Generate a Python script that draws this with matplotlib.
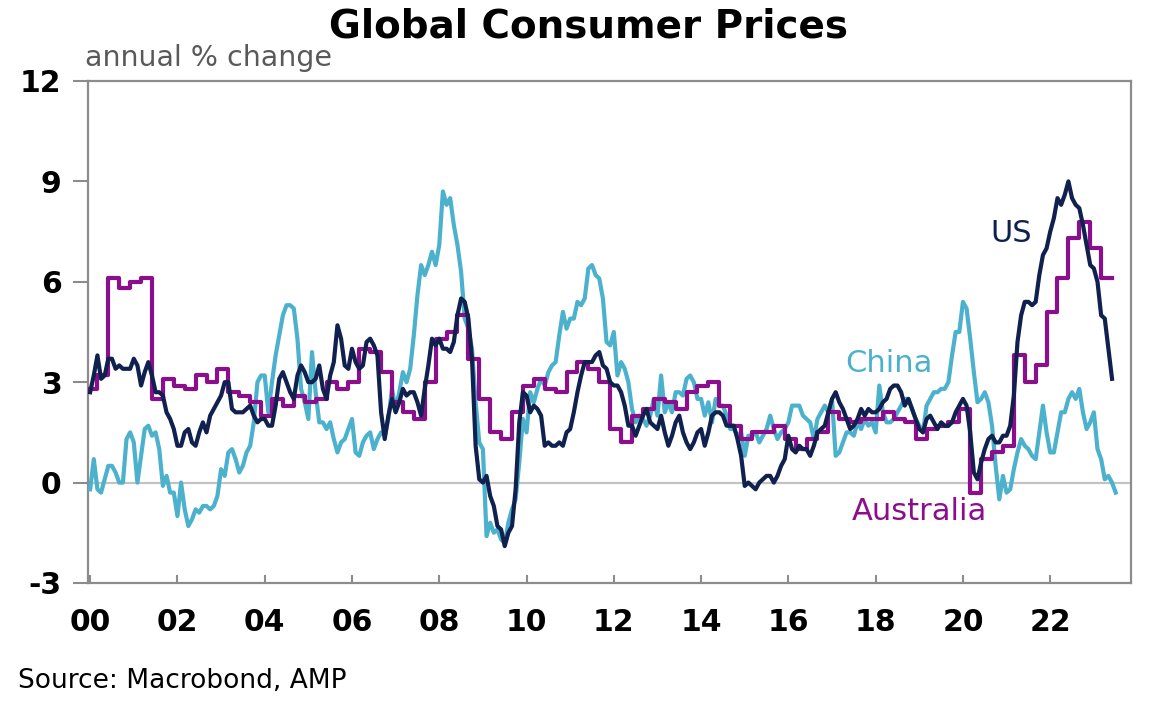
import matplotlib
matplotlib.use("Agg")
import matplotlib.pyplot as plt
import numpy as np

# annual % change, monthly from Jan 2000
us_cpi = [
    2.7, 3.2, 3.8, 3.1, 3.2, 3.7, 3.7, 3.4, 3.5, 3.4, 3.4, 3.4,   # 2000
    3.7, 3.5, 2.9, 3.3, 3.6, 3.2, 2.7, 2.7, 2.6, 2.1, 1.9, 1.6,   # 2001
    1.1, 1.1, 1.5, 1.6, 1.2, 1.1, 1.5, 1.8, 1.5, 2.0, 2.2, 2.4,   # 2002
    2.6, 3.0, 3.0, 2.2, 2.1, 2.1, 2.1, 2.2, 2.3, 2.0, 1.8, 1.9,   # 2003
    1.9, 1.7, 1.7, 2.3, 3.1, 3.3, 3.0, 2.7, 2.5, 3.2, 3.5, 3.3,   # 2004
    3.0, 3.0, 3.1, 3.5, 2.8, 2.5, 3.2, 3.6, 4.7, 4.3, 3.5, 3.4,   # 2005
    4.0, 3.6, 3.4, 3.5, 4.2, 4.3, 4.1, 3.8, 2.1, 1.3, 2.0, 2.5,   # 2006
    2.1, 2.4, 2.8, 2.6, 2.7, 2.7, 2.4, 2.0, 2.8, 3.5, 4.3, 4.1,   # 2007
    4.3, 4.0, 4.0, 3.9, 4.2, 5.0, 5.5, 5.4, 4.9, 3.7, 1.1, 0.1,   # 2008
    0.0, 0.2, -0.4, -0.7, -1.3, -1.4, -1.9, -1.5, -1.3, -0.2, 1.8, 2.7,  # 2009
    2.6, 2.1, 2.3, 2.2, 2.0, 1.1, 1.2, 1.1, 1.1, 1.2, 1.1, 1.5,   # 2010
    1.6, 2.1, 2.7, 3.2, 3.6, 3.6, 3.6, 3.8, 3.9, 3.5, 3.4, 3.0,   # 2011
    2.9, 2.9, 2.7, 2.3, 1.7, 1.7, 1.4, 1.7, 2.0, 2.2, 1.8, 1.7,   # 2012
    1.6, 2.0, 1.5, 1.1, 1.4, 1.8, 2.0, 1.5, 1.2, 1.0, 1.2, 1.5,   # 2013
    1.6, 1.1, 1.5, 2.0, 2.1, 2.1, 2.0, 1.7, 1.7, 1.7, 1.3, 0.8,   # 2014
    -0.1, 0.0, -0.1, -0.2, 0.0, 0.1, 0.2, 0.2, 0.0, 0.2, 0.5, 0.7,  # 2015
    1.4, 1.0, 0.9, 1.1, 1.0, 1.0, 0.8, 1.1, 1.5, 1.6, 1.7, 2.1,   # 2016
    2.5, 2.7, 2.4, 2.2, 1.9, 1.6, 1.7, 1.9, 2.2, 2.0, 2.2, 2.1,   # 2017
    2.1, 2.2, 2.4, 2.5, 2.8, 2.9, 2.9, 2.7, 2.3, 2.5, 2.2, 1.9,   # 2018
    1.6, 1.5, 1.9, 2.0, 1.8, 1.6, 1.8, 1.7, 1.7, 1.8, 2.1, 2.3,   # 2019
    2.5, 2.3, 1.5, 0.3, 0.1, 0.6, 1.0, 1.3, 1.4, 1.2, 1.2, 1.4,   # 2020
    1.4, 1.7, 2.6, 4.2, 5.0, 5.4, 5.4, 5.3, 5.4, 6.2, 6.8, 7.0,   # 2021
    7.5, 7.9, 8.5, 8.3, 8.6, 9.0, 8.5, 8.3, 8.2, 7.7, 7.1, 6.5,   # 2022
    6.4, 6.0, 5.0, 4.9, 4.0, 3.1,                                 # 2023
]

china_cpi = [
    -0.2, 0.7, -0.2, -0.3, 0.1, 0.5, 0.5, 0.3, 0.0, 0.0, 1.3, 1.5,   # 2000
    1.2, 0.0, 0.8, 1.6, 1.7, 1.4, 1.5, 1.0, -0.1, 0.2, -0.3, -0.3,   # 2001
    -1.0, 0.0, -0.8, -1.3, -1.1, -0.8, -0.9, -0.7, -0.7, -0.8, -0.7, -0.4,  # 2002
    0.4, 0.2, 0.9, 1.0, 0.7, 0.3, 0.5, 0.9, 1.1, 1.8, 3.0, 3.2,   # 2003
    3.2, 2.1, 3.0, 3.8, 4.4, 5.0, 5.3, 5.3, 5.2, 4.3, 2.8, 2.4,   # 2004
    1.9, 3.9, 2.7, 1.8, 1.8, 1.6, 1.8, 1.3, 0.9, 1.2, 1.3, 1.6,   # 2005
    1.9, 0.9, 0.8, 1.2, 1.4, 1.5, 1.0, 1.3, 1.5, 1.4, 1.9, 2.8,   # 2006
    2.2, 2.7, 3.3, 3.0, 3.4, 4.4, 5.6, 6.5, 6.2, 6.5, 6.9, 6.5,   # 2007
    7.1, 8.7, 8.3, 8.5, 7.7, 7.1, 6.3, 4.9, 4.6, 4.0, 2.4, 1.2,   # 2008
    1.0, -1.6, -1.2, -1.5, -1.4, -1.7, -1.8, -1.2, -0.8, -0.5, 0.6, 1.9,  # 2009
    1.5, 2.7, 2.4, 2.8, 3.1, 2.9, 3.3, 3.5, 3.6, 4.4, 5.1, 4.6,   # 2010
    4.9, 4.9, 5.4, 5.3, 5.5, 6.4, 6.5, 6.2, 6.1, 5.5, 4.2, 4.1,   # 2011
    4.5, 3.2, 3.6, 3.4, 3.0, 2.2, 1.8, 2.0, 1.9, 1.7, 2.0, 2.5,   # 2012
    2.0, 3.2, 2.1, 2.4, 2.1, 2.7, 2.7, 2.6, 3.1, 3.2, 3.0, 2.5,   # 2013
    2.5, 2.0, 2.4, 1.8, 2.5, 2.3, 2.3, 2.0, 1.6, 1.6, 1.4, 1.5,   # 2014
    0.8, 1.4, 1.4, 1.5, 1.2, 1.4, 1.6, 2.0, 1.6, 1.3, 1.5, 1.6,   # 2015
    1.8, 2.3, 2.3, 2.3, 2.0, 1.9, 1.8, 1.3, 1.9, 2.1, 2.3, 2.1,   # 2016
    2.5, 0.8, 0.9, 1.2, 1.5, 1.5, 1.4, 1.8, 1.6, 1.9, 1.7, 1.8,   # 2017
    1.5, 2.9, 2.1, 1.8, 1.8, 1.9, 2.1, 2.3, 2.5, 2.5, 2.2, 1.9,   # 2018
    1.7, 1.5, 2.3, 2.5, 2.7, 2.7, 2.8, 2.8, 3.0, 3.8, 4.5, 4.5,   # 2019
    5.4, 5.2, 4.3, 3.3, 2.4, 2.5, 2.7, 2.4, 1.7, 0.5, -0.5, 0.2,  # 2020
    -0.3, -0.2, 0.4, 0.9, 1.3, 1.1, 1.0, 0.8, 0.7, 1.5, 2.3, 1.5,  # 2021
    0.9, 0.9, 1.5, 2.1, 2.1, 2.5, 2.7, 2.5, 2.8, 2.1, 1.6, 1.8,   # 2022
    2.1, 1.0, 0.7, 0.1, 0.2, 0.0, -0.3,                           # 2023
]

# quarterly from Q1 2000
aus_cpi = [
    2.8, 3.2, 6.1, 5.8,   # 2000
    6.0, 6.1, 2.5, 3.1,   # 2001
    2.9, 2.8, 3.2, 3.0,   # 2002
    3.4, 2.7, 2.6, 2.4,   # 2003
    2.0, 2.5, 2.3, 2.6,   # 2004
    2.4, 2.5, 3.0, 2.8,   # 2005
    3.0, 4.0, 3.9, 3.3,   # 2006
    2.4, 2.1, 1.9, 3.0,   # 2007
    4.3, 4.5, 5.0, 3.7,   # 2008
    2.5, 1.5, 1.3, 2.1,   # 2009
    2.9, 3.1, 2.8, 2.7,   # 2010
    3.3, 3.6, 3.4, 3.0,   # 2011
    1.6, 1.2, 2.0, 2.2,   # 2012
    2.5, 2.4, 2.2, 2.7,   # 2013
    2.9, 3.0, 2.3, 1.7,   # 2014
    1.3, 1.5, 1.5, 1.7,   # 2015
    1.3, 1.0, 1.3, 1.5,   # 2016
    2.1, 1.9, 1.8, 1.9,   # 2017
    1.9, 2.1, 1.9, 1.8,   # 2018
    1.3, 1.6, 1.7, 1.8,   # 2019
    2.2, -0.3, 0.7, 0.9,  # 2020
    1.1, 3.8, 3.0, 3.5,   # 2021
    5.1, 6.1, 7.3, 7.8,   # 2022
    7.0, 6.1,             # 2023
]

year_ticks = list(range(2000, 2023, 2))
year_labels = ["%02d" % (y % 100) for y in year_ticks]
y_ticks = [-3, 0, 3, 6, 9, 12]

navy = "#10204f"
purple = "#8b0f8c"
lblue = "#4cb1cc"
grey = "#8c8c8c"

plt.rcParams['font.family'] = ['DejaVu Sans']

fig = plt.figure(figsize=(11.59, 7.08), dpi=100)
ax = fig.add_axes([0.0759, 0.1766, 0.8999, 0.709])

t_us = 2000 + np.arange(len(us_cpi)) / 12
t_cn = 2000 + np.arange(len(china_cpi)) / 12
t_au = 2000 + np.arange(len(aus_cpi) + 1) / 4 - 1 / 12
t_au[0] = 2000
aus_vals = aus_cpi + [aus_cpi[-1]]

ax.axhline(0, color="#c3c3c3", lw=1.6, zorder=1)
ax.plot(t_cn, china_cpi, color=lblue, lw=3.0, zorder=3)
ax.plot(t_au, aus_vals, color=purple, lw=3.0, drawstyle="steps-post", zorder=4)
ax.plot(t_us, us_cpi, color=navy, lw=3.0, zorder=5)

ax.set_xlim(1999.95, 2023.85)
ax.set_ylim(-3, 12)

ax.set_xticks(year_ticks)
ax.set_xticklabels(year_labels, fontsize=21.5, fontweight="bold")
ax.set_yticks(y_ticks)
ax.set_yticklabels([str(v) for v in y_ticks], fontsize=21.5, fontweight="bold")
ax.tick_params(axis="x", direction="in", length=6, width=1.5, color=grey, pad=18)
ax.tick_params(axis="y", direction="out", length=11, width=1.5, color=grey, pad=8)

for s in ax.spines.values():
    s.set_color(grey)
    s.set_linewidth(1.6)

ax.text(2021.1, 7.45, "US", color=navy, fontsize=22, ha="center", va="center")
ax.text(2018.3, 3.56, "China", color=lblue, fontsize=22, ha="center", va="center")
ax.text(2019.0, -0.87, "Australia", color=purple, fontsize=22, ha="center", va="center")

fig.text(0.508, 0.962, "Global Consumer Prices", fontsize=28, fontweight="bold",
         ha="center", va="center")
fig.text(0.0735, 0.907, "annual % change", fontsize=20.5, color="#595959",
         ha="left", va="baseline")
fig.text(0.0155, 0.028, "Source: Macrobond, AMP", fontsize=19, ha="left", va="baseline")

fig.savefig("out.png", dpi=100)
